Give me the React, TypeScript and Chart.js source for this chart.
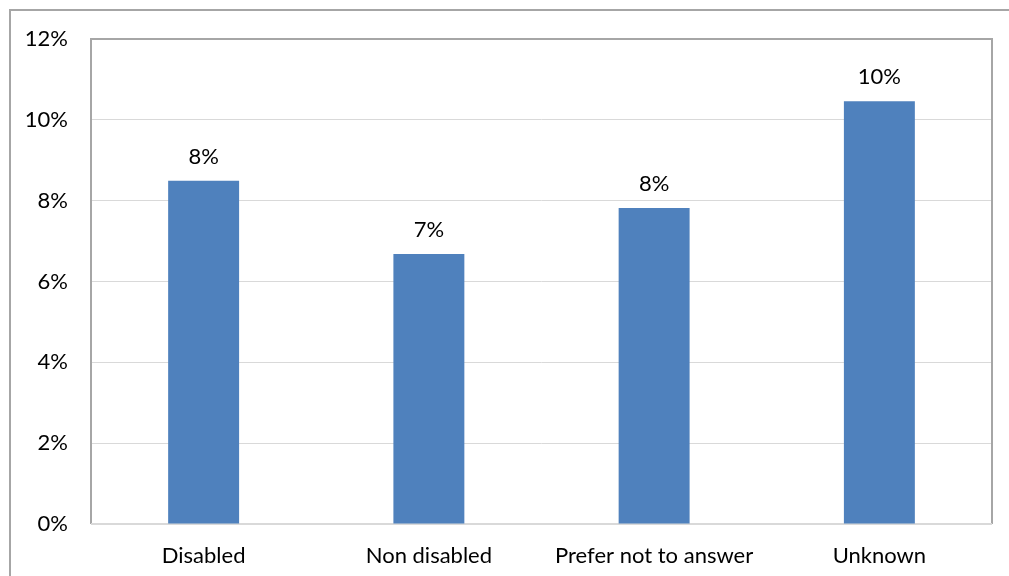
import React, { useEffect, useRef } from "react";
import { Chart, registerables } from "chart.js";

Chart.register(...registerables);

const categories = ["Disabled", "Non disabled", "Prefer not to answer", "Unknown"];
const shares = [8.49, 6.68, 7.82, 10.46];
const yTicks = [0, 2, 4, 6, 8, 10, 12];

const FONT = "Lato, 'Liberation Sans', sans-serif";
const FONT_SIZE = 22;
const BAR_COLOR = "#4f81bd";

// Outer frame, plot-area box and value labels above each bar
const decorations = {
  id: "decorations",
  beforeDraw(chart: any) {
    const ctx = chart.ctx;
    ctx.save();
    ctx.fillStyle = "#ffffff";
    ctx.fillRect(0, 0, chart.width, chart.height);
    ctx.strokeStyle = "#a6a6a6";
    ctx.lineWidth = 2;
    ctx.strokeRect(10, 10, chart.width + 20, chart.height + 20);
    ctx.restore();
  },
  beforeDatasetsDraw(chart: any) {
    const { ctx, chartArea: a } = chart;
    ctx.save();
    ctx.lineWidth = 2;
    ctx.strokeStyle = "#a6a6a6";
    ctx.beginPath();
    ctx.moveTo(a.left, a.bottom);
    ctx.lineTo(a.left, a.top);
    ctx.lineTo(a.right, a.top);
    ctx.lineTo(a.right, a.bottom);
    ctx.stroke();
    ctx.strokeStyle = "#d9d9d9";
    ctx.beginPath();
    ctx.moveTo(a.left, a.bottom);
    ctx.lineTo(a.right, a.bottom);
    ctx.stroke();
    ctx.restore();
  },
  afterDatasetsDraw(chart: any) {
    const ctx = chart.ctx;
    const meta = chart.getDatasetMeta(0);
    ctx.save();
    ctx.fillStyle = "#000000";
    ctx.font = `${FONT_SIZE}px ${FONT}`;
    ctx.textAlign = "center";
    ctx.textBaseline = "middle";
    meta.data.forEach((bar: any, i: number) => {
      ctx.fillText(`${Math.round(shares[i])}%`, bar.x, bar.y - 24);
    });
    ctx.restore();
  },
};

export default function App() {
  const ref = useRef<HTMLCanvasElement>(null);

  useEffect(() => {
    if (!ref.current) return;
    const chart = new Chart(ref.current, {
      type: "bar",
      data: {
        labels: categories,
        datasets: [
          {
            data: shares,
            backgroundColor: BAR_COLOR,
            barPercentage: 0.63,
            categoryPercentage: 0.5,
          },
        ],
      },
      options: {
        animation: false,
        responsive: false,
        maintainAspectRatio: false,
        layout: { padding: { top: 39, right: 17, left: 0, bottom: 0 } },
        plugins: {
          legend: { display: false },
          tooltip: { enabled: false },
        },
        scales: {
          x: {
            grid: { display: false, drawTicks: false },
            border: { display: false },
            ticks: {
              color: "#000000",
              font: { family: FONT, size: FONT_SIZE },
              padding: 19,
              maxRotation: 0,
              autoSkip: false,
            },
            afterFit: (s: any) => {
              s.height = 52;
            },
          },
          y: {
            min: 0,
            max: 12,
            afterBuildTicks: (s: any) => {
              s.ticks = yTicks.map((v) => ({ value: v }));
            },
            grid: { color: "#d9d9d9", lineWidth: 1, drawTicks: false },
            border: { display: false },
            ticks: {
              color: "#000000",
              font: { family: FONT, size: FONT_SIZE },
              padding: 23,
              callback: (v: any) => `${v}%`,
            },
            afterFit: (s: any) => {
              s.width = 91;
            },
          },
        },
      },
      plugins: [decorations],
    });
    return () => chart.destroy();
  }, []);

  return (
    <div style={{ position: "absolute", left: 0, top: 0, width: 1009, height: 576 }}>
      <canvas ref={ref} width={1009} height={576} style={{ display: "block" }} />
    </div>
  );
}
